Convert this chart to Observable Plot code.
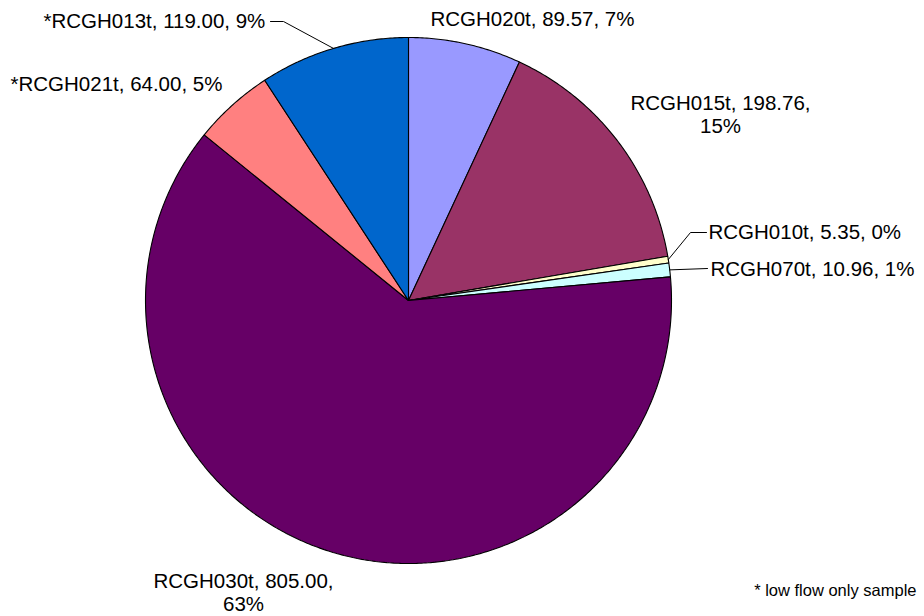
<!DOCTYPE html>
<html>
<head>
<meta charset="utf-8">
<script src="https://cdn.jsdelivr.net/npm/d3@7"></script>
<script src="https://cdn.jsdelivr.net/npm/@observablehq/plot@0.6"></script>
<style>
  html, body { margin: 0; padding: 0; background: #fff; }
  #chart svg { display: block; }
</style>
</head>
<body>
<div id="chart"></div>
<script>
// ---- data (clockwise from 12 o'clock) ----
const names = ["RCGH020t", "RCGH015t", "RCGH010t", "RCGH070t", "RCGH030t", "RCGH021t", "RCGH013t"];
const values = [89.57, 198.76, 5.35, 10.96, 805.00, 64.00, 119.00];
const pctLabels = ["7%", "15%", "0%", "1%", "63%", "5%", "9%"];
const lowFlowOnly = [false, false, false, false, false, true, true];
const colors = ["#9999FF", "#993366", "#FFFFCC", "#CCFFFF", "#660066", "#FF8080", "#0066CC"];
const footnote = "* low flow only sample";

// ---- layout ----
const W = 924, H = 616;
const cx = 408, cy = 300, R = 263;
// label placement (pixel positions, anchor, line break)
const labelLayout = {
  RCGH020t: {x: 532, y: 25, anchor: "middle", wrap: false},
  RCGH015t: {x: 720, y: 132, anchor: "middle", wrap: true},
  RCGH010t: {x: 708, y: 238, anchor: "start", wrap: false, leader: [[690, 232], [706, 232]]},
  RCGH070t: {x: 710, y: 275, anchor: "start", wrap: false, leader: [[707, 268]]},
  RCGH030t: {x: 243, y: 610, anchor: "middle", wrap: true},
  RCGH021t: {x: 10, y: 90, anchor: "start", wrap: false},
  RCGH013t: {x: 43, y: 27, anchor: "start", wrap: false, leader: [[283, 21], [270, 21]]}
};

const rows = names.map((n, i) => ({name: n, value: values[i], pct: pctLabels[i], low: lowFlowOnly[i], color: colors[i]}));
const arcs = d3.pie().sort(null).value(d => d.value).startAngle(0).endAngle(2 * Math.PI)(rows);

const px = a => cx + R * Math.sin(a);
const py = a => cy - R * Math.cos(a);

// slice outlines as closed polygons
const slicePts = [];
for (const a of arcs) {
  const pts = [{x: cx, y: cy}];
  const n = Math.max(2, Math.ceil((a.endAngle - a.startAngle) / (Math.PI / 360)));
  for (let k = 0; k <= n; k++) {
    const t = a.startAngle + (a.endAngle - a.startAngle) * k / n;
    pts.push({x: px(t), y: py(t)});
  }
  pts.push({x: cx, y: cy});
  for (const p of pts) slicePts.push({...p, name: a.data.name, color: a.data.color});
}

// labels
const labels = arcs.map(a => {
  const d = a.data, L = labelLayout[d.name];
  const head = `${d.low ? "*" : ""}${d.name}, ${d.value.toFixed(2)},`;
  const text = L.wrap ? `${head}\n${d.pct}` : `${head} ${d.pct}`;
  return {x: L.x, y: L.y, text, anchor: L.anchor};
});

// leader lines from slice edge (mid angle) to label
const leaders = [];
for (const a of arcs) {
  const L = labelLayout[a.data.name];
  if (!L.leader) continue;
  const m = (a.startAngle + a.endAngle) / 2;
  leaders.push({x: px(m), y: py(m), name: a.data.name});
  for (const [lx, ly] of L.leader) leaders.push({x: lx, y: ly, name: a.data.name});
}

const font = "'Liberation Sans', Arial, Helvetica, sans-serif";
const textMark = (anchor) => Plot.text(labels.filter(d => d.anchor === anchor), {
  x: "x", y: "y", text: "text", textAnchor: anchor, lineAnchor: "bottom",
  lineHeight: 1.12, fontSize: 20.5, fontFamily: font, fill: "black"
});

const chart = Plot.plot({
  width: W, height: H,
  margin: 0,
  x: {domain: [0, W], range: [0, W], axis: null},
  y: {domain: [0, H], range: [0, H], axis: null},
  color: {type: "identity"},
  style: {background: "white", fontFamily: font},
  marks: [
    Plot.line(slicePts, {x: "x", y: "y", z: "name", fill: "color", stroke: "black", strokeWidth: 1.1, strokeLinejoin: "miter", curve: "linear"}),
    Plot.line(leaders, {x: "x", y: "y", z: "name", stroke: "black", strokeWidth: 1, curve: "linear"}),
    textMark("start"),
    textMark("middle"),
    Plot.text([footnote], {x: () => 916, y: () => 595, text: d => d, textAnchor: "end", lineAnchor: "bottom",
      fontSize: 16.5, fontFamily: font, fill: "black"})
  ]
});
document.getElementById("chart").appendChild(chart);
</script>
</body>
</html>
